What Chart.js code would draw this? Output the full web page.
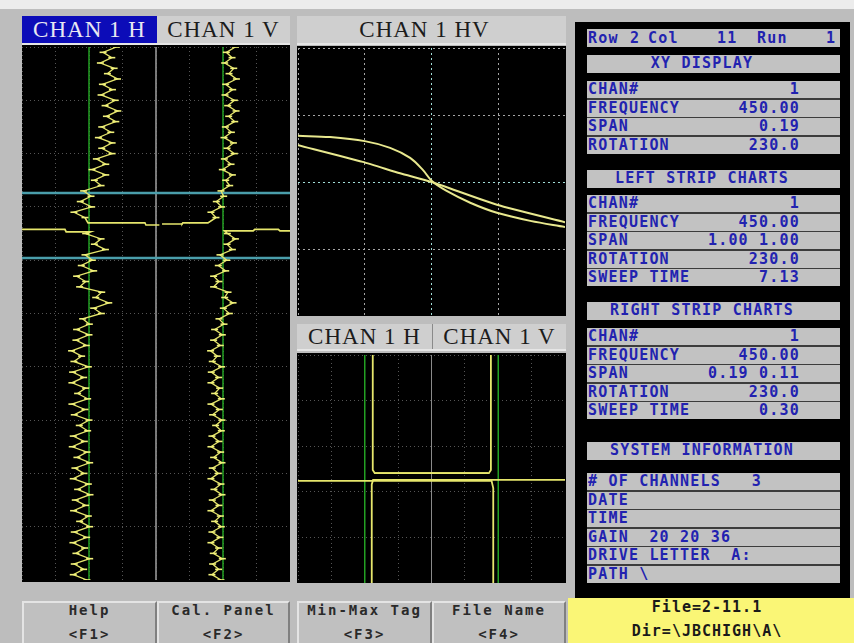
<!DOCTYPE html>
<html>
<head>
<meta charset="utf-8">
<script src="https://cdn.jsdelivr.net/npm/chart.js@4.4.1/dist/chart.umd.min.js"></script>
<style>
  body { margin: 0; width: 854px; height: 643px; background: #bdbdbd; position: relative; overflow: hidden; }
  .abs { position: absolute; }
  .tab { position: absolute; font: 23px 'Liberation Serif', serif; letter-spacing: 1px; line-height: 27px; text-align: center; white-space: pre; }
  .scope { position: absolute; background: #000; }
  canvas { position: absolute; }
  .mono { font-family: 'DejaVu Sans Mono', monospace; font-weight: bold; }
  .prow { position: absolute; left: 587px; width: 253px; height: 17px; background: #c2c2c2; color: #2222b0;
          font: bold 15px 'DejaVu Sans Mono', monospace; letter-spacing: 1.2px; line-height: 17px; white-space: pre; }
  .btn { position: absolute; top: 601px; height: 44px; background: #c0c0c0; border-top: 2px solid #e4e4e4; border-left: 2px solid #e4e4e4;
         border-right: 2px solid #808080; box-sizing: border-box; text-align: center; color: #2a2a2a;
         font: bold 14px 'DejaVu Sans Mono', monospace; letter-spacing: 2px; line-height: 24px; white-space: pre; }
  .btn div { position: relative; top: -5px; }
</style>
</head>
<body>

<div class="abs" style="left:0;top:0;width:854px;height:9px;background:#ececec"></div>

<!-- left strip charts header -->
<div class="tab" style="left:22px;top:16px;width:135px;height:27px;background:#0c0cb8;color:#e8e8f2">CHAN 1 H</div>
<div class="tab" style="left:157px;top:16px;width:133px;height:27px;background:#cfcfcf;color:#1c1c1c">CHAN 1 V</div>
<div class="abs" style="left:22px;top:43px;width:268px;height:2px;background:#e6e6e6"></div>
<div class="scope" style="left:22px;top:45px;width:268px;height:537px"></div>
<canvas id="stripChart" width="268" height="533" style="left:22px;top:47px"></canvas>

<!-- XY display -->
<div class="tab" style="left:297px;top:16px;width:269px;height:27px;background:#cfcfcf;color:#1c1c1c;box-sizing:border-box;padding-right:14px">CHAN 1 HV</div>
<div class="abs" style="left:297px;top:43px;width:269px;height:2px;background:#e6e6e6"></div>
<div class="scope" style="left:297px;top:46px;width:269px;height:270px"></div>
<canvas id="hvChart" width="267" height="268" style="left:298px;top:48px"></canvas>

<!-- right strip charts -->
<div class="tab" style="left:297px;top:324px;width:135px;height:25px;line-height:25px;background:#cfcfcf;color:#1c1c1c">CHAN 1 H</div>
<div class="tab" style="left:433px;top:324px;width:133px;height:25px;line-height:25px;background:#cfcfcf;color:#1c1c1c">CHAN 1 V</div>
<div class="abs" style="left:432px;top:324px;width:1px;height:25px;background:#8a8a8a"></div>
<div class="abs" style="left:297px;top:349px;width:269px;height:2px;background:#e6e6e6"></div>
<div class="scope" style="left:297px;top:353px;width:269px;height:230px"></div>
<canvas id="zoomChart" width="267" height="228" style="left:298px;top:355px"></canvas>

<!-- info panel -->
<div class="scope" style="left:575px;top:22px;width:275px;height:576px" id="infoPanel"></div>

<div class="abs mono" style="left:568px;top:598px;width:286px;height:45px;background:#faf676;color:#1a1a1a;text-align:center;font-size:15px;line-height:24px;letter-spacing:1px;padding-right:8px;box-sizing:border-box"><div style="position:relative;top:-3px">File=2-11.1<br>Dir=\JBCHIGH\A\</div></div>

<div class="btn" style="left:22px;width:135px"><div>Help
&lt;F1&gt;</div></div>
<div class="btn" style="left:157px;width:133px"><div>Cal. Panel
&lt;F2&gt;</div></div>
<div class="btn" style="left:297px;width:135px"><div>Min-Max Tag
&lt;F3&gt;</div></div>
<div class="btn" style="left:432px;width:134px"><div>File Name
&lt;F4&gt;</div></div>

<script>
// ---- left strip charts (divisions: x 0..8, H strip 0..4, V strip 4..8; y 0..10 time, downwards) ----
const sampleStep = 0.1;
const upperStart = 0;
const lowerStart = 3.5;

const chanHUpper = [2.82, 2.42, 2.68, 2.34, 2.75, 2.55, 2.85, 2.40, 2.70, 2.36, 2.78, 2.48, 2.86, 2.52, 2.80, 2.38,
  2.65, 2.28, 2.69, 2.38, 2.69, 2.22, 2.50, 2.09, 2.50, 2.16, 2.36, 1.84, 2.06, 1.74, 2.08, 1.55, 1.88];
const chanHLower = [1.90, 2.36, 2.16, 2.49, 1.88, 2.10, 1.77, 2.14, 1.63, 1.90, 1.72, 2.38, 2.20, 2.59, 2.14, 2.37,
  1.81, 2.01, 1.63, 2.00, 1.61, 1.92, 1.48, 1.78, 1.55, 1.98, 1.51, 1.84, 1.49, 1.90, 1.66, 1.96, 1.49, 1.88, 1.56,
  2.00, 1.71, 1.96, 1.53, 1.86, 1.50, 1.94, 1.64, 2.02, 1.58, 1.85, 1.53, 1.98, 1.66, 2.03, 1.59, 1.90, 1.54, 1.98,
  1.72, 2.02, 1.56, 1.93, 1.52, 1.87, 1.61, 2.02, 1.56, 1.84, 1.53, 1.94];
const chanVUpper = [6.37, 6.10, 6.27, 6.05, 6.32, 6.18, 6.40, 6.08, 6.29, 6.06, 6.34, 6.14, 6.39, 6.17, 6.35, 6.07,
  6.25, 6.03, 6.31, 6.12, 6.34, 6.04, 6.24, 5.98, 6.28, 6.08, 6.20, 5.94, 6.02, 5.80, 5.96, 5.64, 5.79];
const chanVLower = [6.13, 6.37, 6.12, 6.28, 5.91, 6.11, 5.86, 6.08, 5.72, 5.88, 5.72, 6.15, 6.05, 6.30, 6.01, 6.19,
  5.88, 6.03, 5.75, 5.98, 5.72, 5.92, 5.63, 5.83, 5.68, 5.96, 5.65, 5.87, 5.64, 5.90, 5.75, 5.95, 5.64, 5.89, 5.69,
  5.97, 5.78, 5.95, 5.67, 5.88, 5.64, 5.93, 5.72, 5.97, 5.68, 5.86, 5.64, 5.94, 5.73, 5.97, 5.68, 5.88, 5.64, 5.92,
  5.75, 5.95, 5.67, 5.91, 5.64, 5.87, 5.71, 5.98, 5.69, 5.87, 5.67, 5.94];

// signal leaving the strip and coming back
const hOutX = [1.88, 1.97, 3.67, 3.70, 4.10];
const hOutY = [3.20, 3.30, 3.30, 3.34, 3.34];
const hBackX = [0.00, 1.28, 1.32, 2.03, 1.90];
const hBackY = [3.42, 3.42, 3.47, 3.47, 3.50];
const vOutX = [5.79, 5.55, 4.80, 4.78, 4.18];
const vOutY = [3.20, 3.30, 3.30, 3.32, 3.32];
const vBackX = [8.00, 7.70, 7.65, 6.95, 6.90, 6.05, 6.13];
const vBackY = [3.45, 3.45, 3.42, 3.42, 3.45, 3.45, 3.50];

const nullCols = [2, 6];
const stripDivider = 4;
const tagRows = [2.74, 3.96];

// ---- XY (HV) display, divisions -2..2 ----
const hvLoopX = [-2.0, -1.52, -1.0, -0.62, -0.32, -0.13, 0.01, 0.22, 0.58, 0.98, 1.48, 2.0];
const hvLoopY = [0.69, 0.67, 0.61, 0.51, 0.36, 0.18, 0.01, -0.13, -0.31, -0.46, -0.58, -0.67];
const hvLineX = [-2.0, -1.03, -0.47, 0.0, 0.98, 2.0];
const hvLineY = [0.55, 0.30, 0.13, 0.0, -0.34, -0.60];

// ---- right strip charts (x 0..8, y 0..5) ----
const zHOutX = [2.24, 2.24, 2.30, 5.70];
const zHOutY = [0, 2.52, 2.59, 2.59];
const zVOutX = [5.78, 5.78, 5.72, 2.30];
const zVOutY = [0, 2.52, 2.59, 2.59];
const zHBackX = [8.0, 2.25, 2.21, 2.21];
const zHBackY = [2.74, 2.74, 2.84, 5.0];
const zVBackX = [0.0, 5.80, 5.85, 5.85];
const zVBackY = [2.76, 2.76, 2.92, 5.0];

const TRACE = '#e6e66c';

function pts(xs, ys) {
  return xs.map((x, i) => ({ x: x, y: ys[i] }));
}
function sampled(xs, start) {
  return xs.map((x, i) => ({ x: x, y: start + i * sampleStep }));
}
function line(data, color, width, tension) {
  return { data: data, showLine: true, borderColor: color, borderWidth: width, pointRadius: 0, tension: tension || 0, fill: false };
}
// noisy trace: each sample also leaves a short horizontal stroke, as on the scope
function noisy(data) {
  return { data: data, showLine: true, borderColor: TRACE, borderWidth: 1.3, fill: false,
           pointStyle: 'line', pointRadius: 3.5, pointBorderWidth: 1.6, pointBorderColor: '#f0f07a' };
}
function axis(min, max, reverse, gridColor, dash) {
  return {
    type: 'linear', min: min, max: max, reverse: reverse,
    ticks: { display: false, stepSize: 1 },
    grid: { color: gridColor, drawTicks: false, lineWidth: 1 },
    border: { display: false, dash: dash }
  };
}
function scope(id, datasets, xr, yr, gridColor, dash) {
  return new Chart(document.getElementById(id), {
    type: 'scatter',
    data: { datasets: datasets },
    options: {
      responsive: false, animation: false, devicePixelRatio: 1, events: [],
      layout: { padding: 0, autoPadding: false },
      plugins: { legend: { display: false }, tooltip: { enabled: false } },
      scales: { x: axis(xr[0], xr[1], false, gridColor, dash), y: axis(yr[0], yr[1], yr[2], gridColor, dash) }
    }
  });
}

// left strips
const stripSets = [
  noisy(sampled(chanHUpper, upperStart)),
  noisy(sampled(chanHLower, lowerStart)),
  noisy(sampled(chanVUpper, upperStart)),
  noisy(sampled(chanVLower, lowerStart)),
  line(pts(hOutX, hOutY), TRACE, 1.6),
  line(pts(hBackX, hBackY), TRACE, 1.8),
  line(pts(vOutX, vOutY), TRACE, 1.6),
  line(pts(vBackX, vBackY), TRACE, 1.8)
];
tagRows.forEach(r => stripSets.push(line([{ x: 0, y: r }, { x: 8, y: r }], '#4a9eab', 2.5)));
nullCols.forEach(c => stripSets.push(line([{ x: c, y: 0 }, { x: c, y: 10 }], '#23a023', 1.5)));
stripSets.push(line([{ x: stripDivider, y: 0 }, { x: stripDivider, y: 10 }], '#8a8a8a', 1));
scope('stripChart', stripSets, [0, 8], [0, 10, true], '#555555', [1, 3]);

// XY display
scope('hvChart', [
  line(pts(hvLoopX, hvLoopY), '#e8e88e', 2, 0.35),
  line(pts(hvLineX, hvLineY), '#e8e88e', 2, 0.2)
], [-2, 2], [-2, 2, false], ctx => ctx.tick.value === 0 ? '#a0dcd6' : '#a6a6a6', [2, 3]);

// right strips
const zoomSets = [
  line(pts(zHOutX, zHOutY), TRACE, 1.8),
  line(pts(zVOutX, zVOutY), TRACE, 1.8),
  line(pts(zHBackX, zHBackY), TRACE, 1.8),
  line(pts(zVBackX, zVBackY), TRACE, 1.8)
];
nullCols.forEach(c => zoomSets.push(line([{ x: c, y: 0 }, { x: c, y: 5 }], '#23a023', 1.5)));
zoomSets.push(line([{ x: stripDivider, y: 0 }, { x: stripDivider, y: 5 }], '#8a8a8a', 1));
scope('zoomChart', zoomSets, [0, 8], [0, 5, true], '#555555', [1, 3]);

// ---- info panel text ----
const xyLabels = ['CHAN#', 'FREQUENCY', 'SPAN', 'ROTATION'];
const xyValues = ['1', '450.00', '0.19', '230.0'];
const leftLabels = ['CHAN#', 'FREQUENCY', 'SPAN', 'ROTATION', 'SWEEP TIME'];
const leftValues = ['1', '450.00', '1.00 1.00', '230.0', '7.13'];
const rightLabels = ['CHAN#', 'FREQUENCY', 'SPAN', 'ROTATION', 'SWEEP TIME'];
const rightValues = ['1', '450.00', '0.19 0.11', '230.0', '0.30'];
const systemLines = ['# OF CHANNELS   3', 'DATE', 'TIME', 'GAIN  20 20 36', 'DRIVE LETTER  A:', 'PATH \\'];

function addDiv(top, html, extra) {
  const d = document.createElement('div');
  d.className = 'prow';
  d.style.top = top + 'px';
  if (extra) Object.assign(d.style, extra);
  d.innerHTML = html;
  document.body.appendChild(d);
  return d;
}
function esc(s) { return s.replace(/&/g, '&amp;').replace(/</g, '&lt;'); }
function header(top, text) {
  addDiv(top, '<div style="width:230px;text-align:center">' + esc(text) + '</div>', { height: '18px' });
}
function group(top, labels, values) {
  document.body.insertAdjacentHTML('beforeend',
    '<div class="abs" style="left:587px;top:' + top + 'px;width:253px;height:' + (labels.length * 18.5 - 1.5) + 'px;background:#3c3c3c"></div>');
  labels.forEach((lab, i) => {
    const v = values ? '<span style="position:absolute;right:40px;top:0">' + esc(values[i]) + '</span>' : '';
    addDiv(top + i * 18.5, '<span style="margin-left:1px">' + esc(lab) + '</span>' + v);
  });
}

const status = addDiv(29, '', { height: '18px', lineHeight: '18px' });
[['Row', 588], ['2', 630], ['Col', 648], ['11', 717], ['Run', 757], ['1', 826]].forEach(p => {
  status.insertAdjacentHTML('beforeend', '<span style="position:absolute;top:0;left:' + (p[1] - 587) + 'px">' + p[0] + '</span>');
});
header(55, 'XY DISPLAY');
group(81, xyLabels, xyValues);
header(170, 'LEFT STRIP CHARTS');
group(195, leftLabels, leftValues);
header(302, 'RIGHT STRIP CHARTS');
group(328, rightLabels, rightValues);
header(442, 'SYSTEM INFORMATION');
group(473, systemLines, null);
</script>
</body>
</html>
